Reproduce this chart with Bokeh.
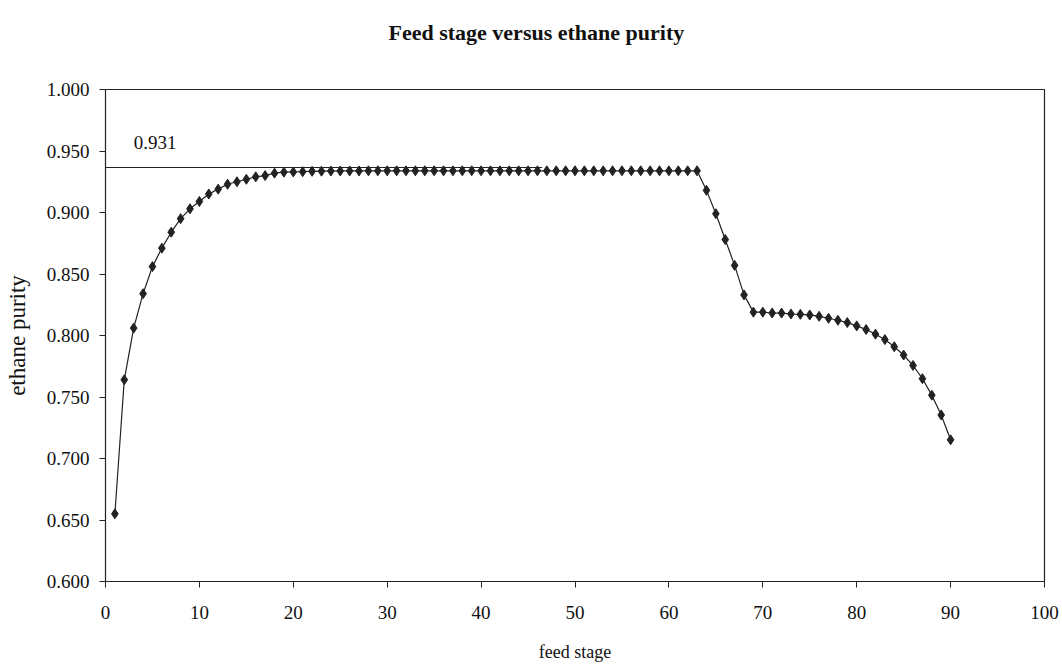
from bokeh.plotting import figure
from bokeh.models import Range1d, FixedTicker, NumeralTickFormatter, Label, Title
from bokeh.embed import file_html
from bokeh.resources import INLINE

# feed stage (x) and ethane purity (y)
stages = list(range(1, 91))
purity = [
    0.655, 0.764, 0.806, 0.834, 0.856, 0.871, 0.884, 0.895, 0.903, 0.909,
    0.915, 0.919, 0.923, 0.925, 0.927, 0.929, 0.930, 0.932, 0.9328, 0.9330,
    0.9332, 0.9335, 0.9336, 0.9337, 0.9338, 0.9338, 0.9338, 0.9339, 0.9339, 0.9339,
    0.9339, 0.9339, 0.9339, 0.9339, 0.9339, 0.9339, 0.9339, 0.9339, 0.9339, 0.9339,
    0.9339, 0.9339, 0.9339, 0.9339, 0.9339, 0.9339, 0.9339, 0.9339, 0.9339, 0.9339,
    0.9339, 0.9339, 0.9339, 0.9339, 0.9339, 0.9339, 0.9339, 0.9339, 0.9339, 0.9339,
    0.9339, 0.9339, 0.9339, 0.918, 0.899, 0.878, 0.857, 0.833, 0.819, 0.819,
    0.8183, 0.8182, 0.8175, 0.8172, 0.8167, 0.8156, 0.814, 0.8124, 0.8105, 0.8078,
    0.8049, 0.8011, 0.7967, 0.7909, 0.7841, 0.7756, 0.7649, 0.7515, 0.7354, 0.7152,
]

# reference line (max purity marker)
ref_x = [0, 46.5]
ref_y = [0.9366, 0.9366]
ref_label = "0.931"
ref_label_pos = (3.0, 0.952)

x_ticks = list(range(0, 101, 10))
y_ticks = [0.60, 0.65, 0.70, 0.75, 0.80, 0.85, 0.90, 0.95, 1.00]

FONT = "Liberation Serif"

p = figure(width=1062, height=667, output_backend="svg", toolbar_location=None,
           x_range=Range1d(0, 100), y_range=Range1d(0.6, 1.0))
p.min_border_left = 105
p.min_border_right = 18
p.min_border_top = 89
p.min_border_bottom = 86

# spacer panel nearest the frame, then the real title above it
p.add_layout(Title(text=" ", text_font_size="8px", standoff=17), "above")
p.add_layout(Title(text="Feed stage versus ethane purity", align="left", offset=283,
                   text_font=FONT, text_font_size="22px", text_font_style="bold",
                   text_color="#111111", standoff=34), "above")

p.xgrid.visible = False
p.ygrid.visible = False
p.outline_line_color = "#222222"
p.outline_line_width = 1.2

for ax in (p.xaxis[0], p.yaxis[0]):
    ax.axis_line_color = "#222222"
    ax.major_tick_line_color = "#222222"
    ax.minor_tick_line_color = None
    ax.major_tick_in = 0
    ax.major_tick_out = 6
    ax.major_label_text_font = FONT
    ax.major_label_text_font_size = "19px"
    ax.major_label_text_color = "#111111"
    ax.axis_label_text_font = FONT
    ax.axis_label_text_font_style = "normal"
    ax.axis_label_text_color = "#111111"

p.xaxis.axis_label_text_font_size = "18px"
p.yaxis.axis_label_text_font_size = "23px"

p.xaxis.ticker = FixedTicker(ticks=x_ticks)
p.yaxis.ticker = FixedTicker(ticks=y_ticks)
p.yaxis.formatter = NumeralTickFormatter(format="0.000")
p.xaxis.axis_label = "feed stage"
p.yaxis.axis_label = "ethane purity"
p.xaxis.major_label_standoff = 18
p.yaxis.major_label_standoff = 10
p.xaxis.axis_label_standoff = 20
p.yaxis.axis_label_standoff = 14

p.line(ref_x, ref_y, line_color="#222222", line_width=1.2)
p.add_layout(Label(x=ref_label_pos[0], y=ref_label_pos[1], text=ref_label,
                   text_font=FONT, text_font_size="19px", text_color="#111111"))

p.line(stages, purity, line_color="#222222", line_width=1.2)
p.scatter(stages, purity, marker="diamond", size=10, fill_color="#222222",
          line_color="#222222")

open("out.html", "w").write(file_html(p, INLINE))
